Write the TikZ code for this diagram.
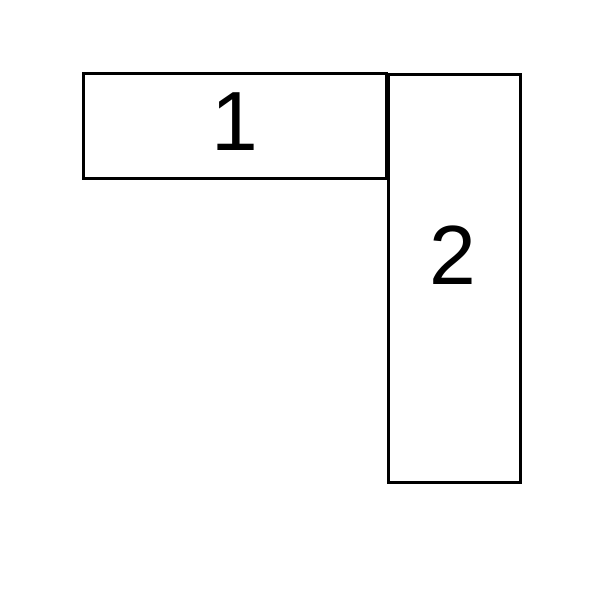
\documentclass[tikz,border=0pt]{standalone}
\usepackage{fontspec}
\setmainfont{Liberation Sans}
\begin{document}
\begin{tikzpicture}[x=1pt,y=-1pt,
  box/.style={draw=black,line width=3pt,fill=white},
  lbl/.style={font=\fontsize{84}{90}\selectfont,inner sep=0pt}]
\useasboundingbox (0,0) rectangle (600,600);
\draw[box] (83,73) rectangle (386,178);
\draw[box] (388,74) rectangle (520,482);
\node[lbl] (n1) at (234.5,122) {1};
\node[lbl] (n2) at (453,255) {2};
\end{tikzpicture}
\end{document}
